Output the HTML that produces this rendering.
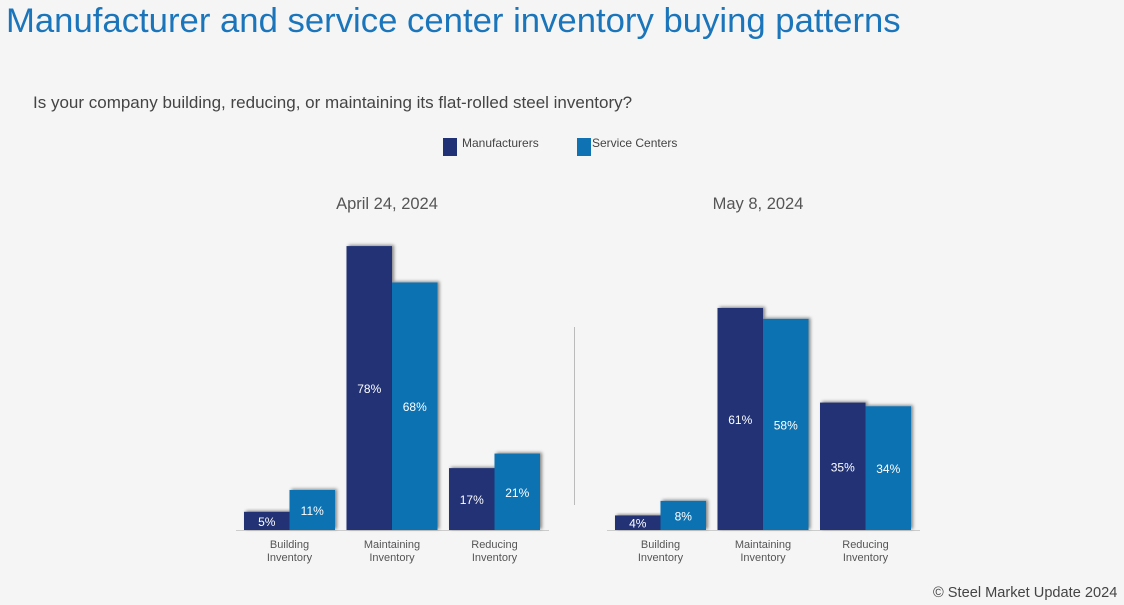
<!DOCTYPE html>
<html><head><meta charset="utf-8"><style>
body{margin:0;width:1124px;height:605px;background:#f5f5f5;font-family:"Liberation Sans",sans-serif;overflow:hidden;position:relative}
.t{position:absolute;white-space:nowrap}
</style></head><body>
<div class="t" style="left:6px;top:2px;font-size:34.7px;color:#1a75bb">Manufacturer and service center inventory buying patterns</div>
<div class="t" style="left:33px;top:93px;font-size:17px;color:#444">Is your company building, reducing, or maintaining its flat-rolled steel inventory?</div>
<div>
<div style="position:absolute;left:443px;top:138px;width:14px;height:18px;background:#213175"></div>
<div class="t" style="left:462px;top:136px;font-size:12px;color:#444">Manufacturers</div>
<div style="position:absolute;left:577px;top:138px;width:14px;height:18px;background:#0f72b2"></div>
<div class="t" style="left:592px;top:136px;font-size:12px;color:#444">Service Centers</div>
</div>
<div class="t" style="left:933px;top:585px;font-size:14.6px;color:#444">© Steel Market Update 2024</div>
<svg id="c" width="1124" height="605" style="position:absolute;left:0;top:0">
<defs><filter id="sh" x="-20%" y="-20%" width="140%" height="140%"><feDropShadow dx="2" dy="-1" stdDeviation="1.5" flood-color="#000" flood-opacity="0.45"/></filter></defs>
</svg>
<script>
const categories=["Building Inventory","Maintaining Inventory","Reducing Inventory"];
const panels=["April 24, 2024","May 8, 2024"];
const aprilManufacturers=[5,78,17];
const aprilServiceCenters=[11,68,21];
const mayManufacturers=[4,61,35];
const mayServiceCenters=[8,58,34];
const svg=document.getElementById('c');const NS='http://www.w3.org/2000/svg';
const base=530, scale=3.64, bw=45.5;
function y(v){return base-v*scale;}
function mk(t,a){const e=document.createElementNS(NS,t);for(const k in a)e.setAttribute(k,a[k]);svg.appendChild(e);return e;}
const data=[[aprilManufacturers,aprilServiceCenters],[mayManufacturers,mayServiceCenters]];
const starts=[244,615];
data.forEach((d,p)=>{
 const x0=starts[p];
 const tt=mk('text',{x:x0+143,y:209,'text-anchor':'middle','font-size':16.5,fill:'#555','font-family':'Liberation Sans'});tt.textContent=panels[p];
 
 
 const ax=mk('line',{x1:x0-8,x2:x0+305,y1:base+0.5,y2:base+0.5,stroke:'#ccc'});
 
 
 categories.forEach((c,i)=>{
  const gx=x0+i*102.5;
  d.forEach((s,j)=>{
   const v=s[i],bx=gx+j*bw;
   const r=mk('rect',{x:bx,y:y(v),width:bw,height:base-y(v),fill:j?'#0f72b2':'#213175',filter:'url(#sh)'});
   
   
   const lt=mk('text',{x:bx+bw/2,y:(y(v)+base)/2+5,'text-anchor':'middle','font-size':12,fill:'#fff','font-family':'Liberation Sans'});
   lt.textContent=v+'%';
   
   
  });
  const w=c.split(' ');
  w.forEach((t,k)=>{
   const ct=mk('text',{x:gx+bw,y:548+k*13,'text-anchor':'middle','font-size':11,fill:'#555','font-family':'Liberation Sans'});
   ct.textContent=t;
   
   
  });
 });
});
const dv=mk('line',{x1:574.5,x2:574.5,y1:327,y2:505,stroke:'#bbb'});


</script>
</body></html>
